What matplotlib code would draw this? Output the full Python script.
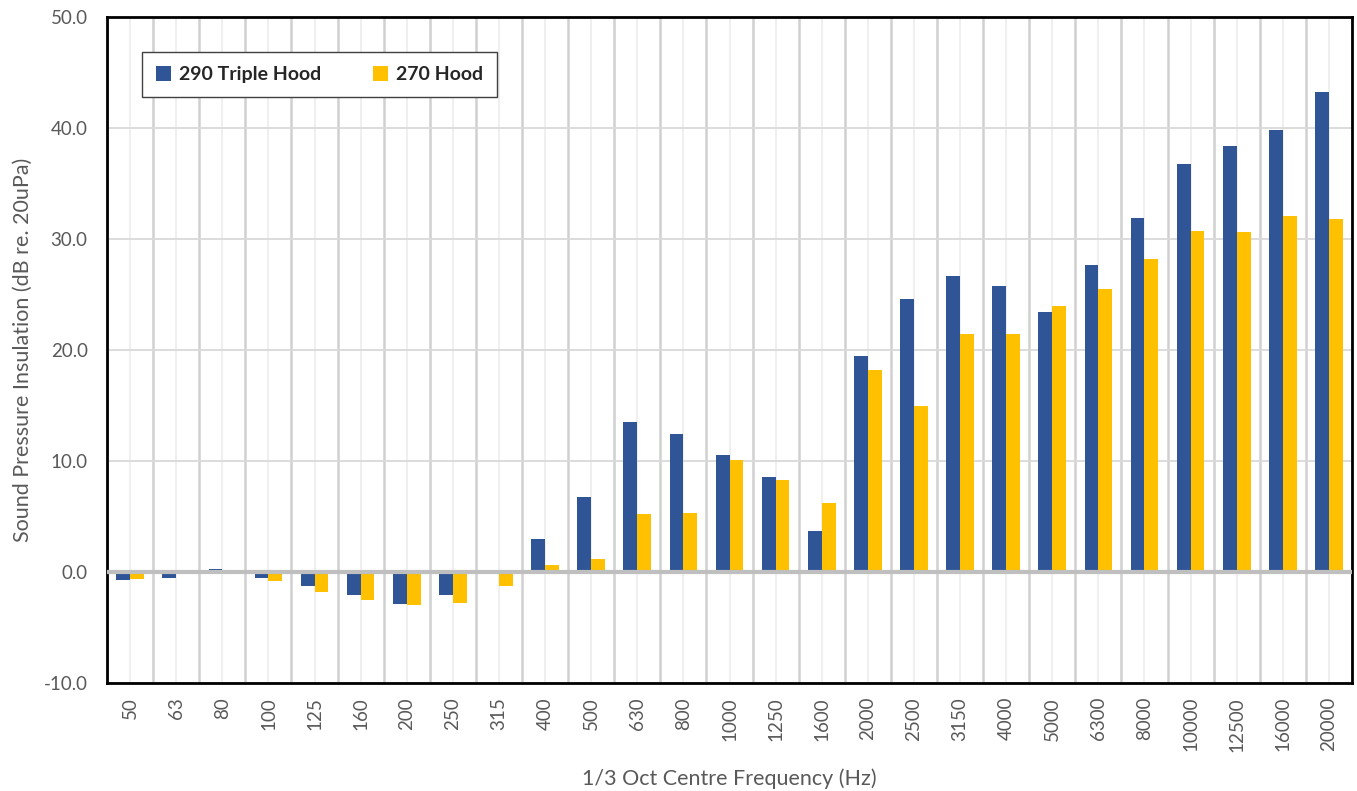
import numpy as np
import matplotlib.pyplot as plt
from matplotlib.ticker import MultipleLocator, FixedLocator

plt.rcParams['font.family'] = ['Lato', 'DejaVu Sans']

# data
freqs = ['50', '63', '80', '100', '125', '160', '200', '250', '315', '400',
         '500', '630', '800', '1000', '1250', '1600', '2000', '2500', '3150',
         '4000', '5000', '6300', '8000', '10000', '12500', '16000', '20000']
triple_hood = [-0.7, -0.5, 0.3, -0.5, -1.3, -2.1, -2.9, -2.1, 0.2, 3.0,
               6.8, 13.5, 12.4, 10.5, 8.6, 3.7, 19.5, 24.6, 26.7,
               25.8, 23.4, 27.7, 31.9, 36.8, 38.4, 39.8, 43.2]
hood_270 = [-0.6, -0.2, 0.0, -0.8, -1.8, -2.5, -3.0, -2.8, -1.3, 0.6,
            1.2, 5.2, 5.3, 10.1, 8.3, 6.2, 18.2, 15.0, 21.4,
            21.4, 24.0, 25.5, 28.2, 30.7, 30.6, 32.1, 31.8]

blue = '#2F5597'
yellow = '#FFC000'
grey_txt = '#595959'

fig = plt.figure(figsize=(13.57, 7.91), dpi=100)
ax = fig.add_axes([0.0789, 0.1365, 0.9174, 0.842])

x = np.arange(len(freqs))
w = 0.3
ax.bar(x - w/2, triple_hood, w, color=blue, label='290 Triple Hood', zorder=3)
ax.bar(x + w/2, hood_270, w, color=yellow, label='270 Hood', zorder=3)

ax.set_xlim(-0.5, len(freqs) - 0.5)
ax.set_ylim(-10, 50)
ax.yaxis.set_major_locator(MultipleLocator(10))
ax.set_yticklabels([f'{v:.1f}' for v in ax.get_yticks()])

ax.set_xticks(x)
ax.set_xticklabels(freqs, rotation=90)
ax.xaxis.set_minor_locator(FixedLocator(np.arange(-0.5, len(freqs), 1)))

# grid lines
ax.grid(axis='y', which='major', color='#d9d9d9', lw=1.3, zorder=0)
ax.grid(axis='x', which='minor', color='#d0d0d0', lw=1.8, zorder=0)
ax.grid(axis='x', which='major', color='#ececec', lw=1.2, zorder=0)
ax.axhline(0, color='#bfbfbf', lw=3, zorder=4)

ax.tick_params(axis='both', which='both', length=0, colors=grey_txt, labelsize=13.5)
ax.tick_params(axis='x', pad=10)
ax.tick_params(axis='y', pad=14)
for s in ax.spines.values():
    s.set_color('black')
    s.set_linewidth(2)

ax.set_ylabel('Sound Pressure Insulation (dB re. 20uPa)', color=grey_txt, fontsize=15.5, labelpad=8)
ax.set_xlabel('1/3 Oct Centre Frequency (Hz)', color=grey_txt, fontsize=15.5, labelpad=12)

leg = ax.legend(loc='upper left', bbox_to_anchor=(0.0281, 0.887, 0.285, 0.06), mode='expand',
                ncol=2, frameon=True, fancybox=False, edgecolor='#404040', framealpha=1,
                prop={'weight': 'bold', 'size': 14}, handlelength=0.8, handleheight=0.8,
                borderpad=0.7, handletextpad=0.4, borderaxespad=0)
leg.get_frame().set_linewidth(1.0)
for t in leg.get_texts():
    t.set_color('#262626')

fig.savefig('out.png', dpi=100)
